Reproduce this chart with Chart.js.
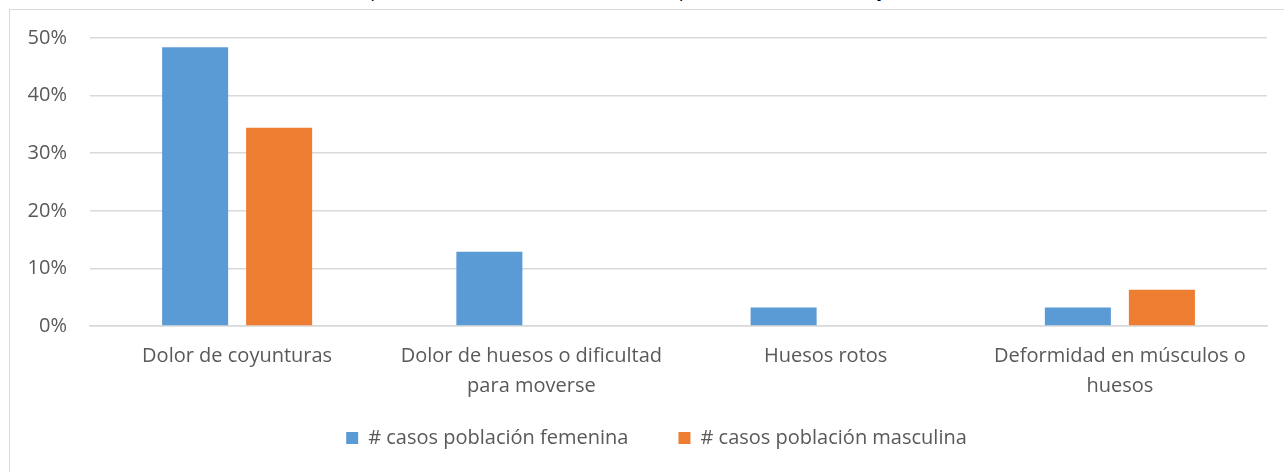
<!DOCTYPE html>
<html>
<head>
<meta charset="utf-8">
<script src="https://cdn.jsdelivr.net/npm/chart.js@4/dist/chart.umd.min.js"></script>
<style>
  html, body { margin: 0; padding: 0; background: #fff; overflow: hidden; }
  #caption {
    position: absolute; left: 110px; top: -23px; white-space: nowrap;
    font-family: "Open Sans", sans-serif; font-size: 19px; color: #000;
  }
  #frame {
    position: absolute; left: 9px; top: 9px; width: 1300px; height: 500px;
    border: 1px solid #d9d9d9; background: #fff;
  }
  #wrap { position: absolute; left: 10px; top: 10px; width: 1274px; height: 462px; }
</style>
</head>
<body>
<div id="caption">Gráfico 16. Número de casos positivos de cada uno de los casos por sistema músculos y huesos</div>
<div id="frame"></div>
<div id="wrap"><canvas id="chart"></canvas></div>
<script>
// datos (porcentaje)
const categories = [
  "Dolor de coyunturas",
  ["Dolor de huesos o dificultad", "para moverse"],
  "Huesos rotos",
  ["Deformidad en músculos o", "huesos"]
];
const femenina = [48.4, 12.9, 3.2, 3.2];
const masculina = [34.4, 0, 0, 6.3];
const seriesNames = ["# casos población femenina", "# casos población masculina"];
const yTicks = [0, 10, 20, 30, 40, 50];

const textColor = "#595959";
const gridColor = "#d9d9d9";
const font = "'Open Sans', sans-serif";

// sube la leyenda (el padding de la leyenda tambien separa los items)
const moveLegend = {
  id: "moveLegend",
  afterLayout(chart) {
    const lg = chart.legend;
    lg.top -= 30; lg.bottom -= 30;
    lg.left += 18; lg.right += 18;
  }
};

new Chart(document.getElementById("chart"), {
  type: "bar",
  data: {
    labels: categories,
    datasets: [
      { label: seriesNames[0], data: femenina, backgroundColor: "#5b9bd5" },
      { label: seriesNames[1], data: masculina, backgroundColor: "#ed7d31" }
    ]
  },
  plugins: [moveLegend],
  options: {
    responsive: true,
    maintainAspectRatio: false,
    animation: false,
    categoryPercentage: 0.571,
    barPercentage: 0.786,
    layout: { padding: { top: 28, right: 17, bottom: -16, left: 0 } },
    plugins: {
      tooltip: { enabled: false },
      legend: {
        position: "bottom",
        labels: {
          boxWidth: 12, boxHeight: 12, padding: 50,
          color: textColor, font: { family: font, size: 20 }
        }
      }
    },
    scales: {
      x: {
        grid: { display: false },
        border: { color: gridColor, width: 1.5 },
        ticks: {
          color: textColor, padding: 7, maxRotation: 0, autoSkip: false,
          font: { family: font, size: 20, lineHeight: 1.5 }
        }
      },
      y: {
        min: 0, max: 50,
        afterFit: (s) => { s.width = 80; s.paddingTop = 0; s.paddingBottom = 0; },
        afterBuildTicks: (s) => { s.ticks = yTicks.map((v) => ({ value: v })); },
        grid: { color: gridColor, lineWidth: 1.5, drawTicks: false },
        border: { display: false },
        ticks: {
          color: textColor, padding: 23,
          font: { family: font, size: 20 },
          callback: (v) => v + "%"
        }
      }
    }
  }
});
</script>
</body>
</html>
